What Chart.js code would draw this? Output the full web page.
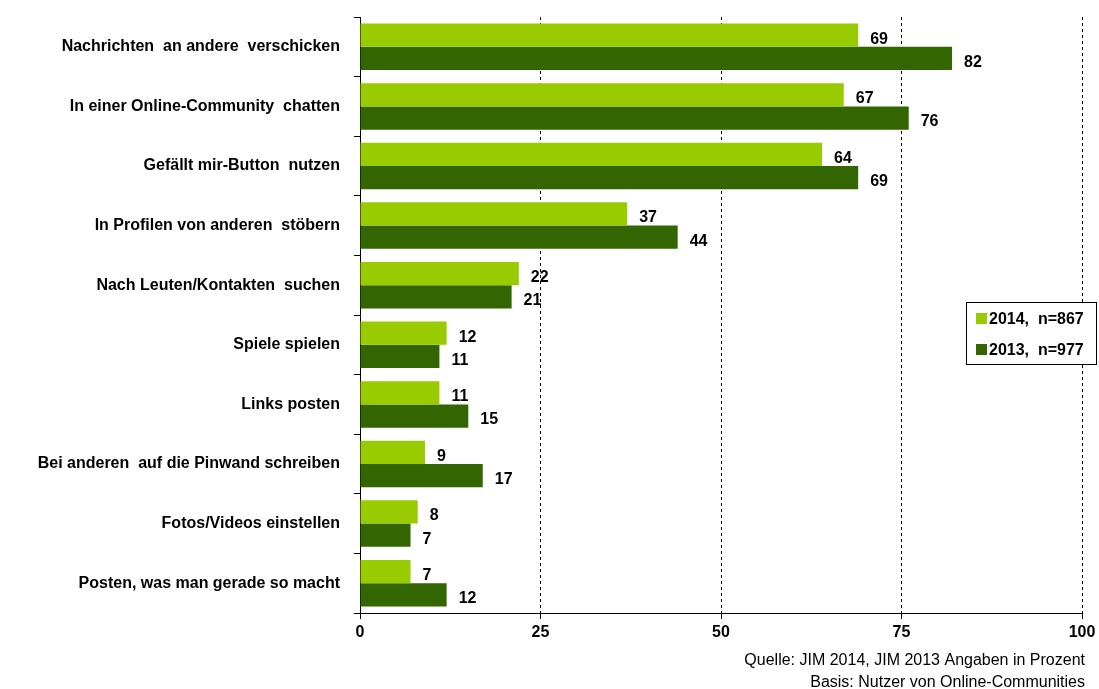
<!DOCTYPE html>
<html><head><meta charset="utf-8">
<script src="https://cdn.jsdelivr.net/npm/chart.js@4"></script>
<style>html,body{margin:0;padding:0;background:#fff}#wrap{width:1099px;height:689px}</style>
</head><body><div id="wrap"><canvas id="c" width="1099" height="689"></canvas></div>
<script>
const categories = [
  "Nachrichten  an andere  verschicken",
  "In einer Online-Community  chatten",
  "Gefällt mir-Button  nutzen",
  "In Profilen von anderen  stöbern",
  "Nach Leuten/Kontakten  suchen",
  "Spiele spielen",
  "Links posten",
  "Bei anderen  auf die Pinwand schreiben",
  "Fotos/Videos einstellen",
  "Posten, was man gerade so macht"
];
const values2014 = [69, 67, 64, 37, 22, 12, 11, 9, 8, 7];
const values2013 = [82, 76, 69, 44, 21, 11, 15, 17, 7, 12];
const seriesLabels = ["2014,  n=867", "2013,  n=977"];
const xTicks = [0, 25, 50, 75, 100];
const footnotes = ["Quelle: JIM 2014, JIM 2013 Angaben in Prozent", "Basis: Nutzer von Online-Communities"];

const FONT = "'Liberation Sans', Arial, sans-serif";
const NARROW = "'Liberation Sans Narrow', 'Arial Narrow', 'Liberation Sans', sans-serif";
const colors = ["#99CC00", "#336600"];

const labelsPlugin = {
  id: 'vals',
  afterDatasetsDraw(chart) {
    const ctx = chart.ctx;
    ctx.save();
    ctx.font = "bold 16px " + FONT;
    ctx.fillStyle = "#000";
    ctx.textBaseline = "middle";
    ctx.textAlign = "left";
    chart.data.datasets.forEach((ds, di) => {
      chart.getDatasetMeta(di).data.forEach((bar, i) => {
        ctx.fillText(String(ds.data[i]), bar.x + 12, bar.y + 4);
      });
    });
    ctx.restore();
  },
  afterDraw(chart) {
    const ctx = chart.ctx;
    ctx.save();
    const lx = 966, ly = 302, lw = 130, lh = 62;
    ctx.fillStyle = "#fff";
    ctx.fillRect(lx, ly, lw, lh);
    ctx.strokeStyle = "#000";
    ctx.lineWidth = 1;
    ctx.strokeRect(lx + 0.5, ly + 0.5, lw, lh);
    ctx.font = "bold 16px " + FONT;
    ctx.textBaseline = "middle";
    ctx.textAlign = "left";
    seriesLabels.forEach((t, i) => {
      const cy = ly + 17 + i * 31;
      ctx.fillStyle = colors[i];
      ctx.fillRect(lx + 10, cy - 6, 11, 11);
      ctx.fillStyle = "#000";
      ctx.fillText(t, lx + 23, cy + 1);
    });
    ctx.font = "16px " + NARROW;
    ctx.textAlign = "right";
    ctx.fillStyle = "#000";
    ctx.fillText(footnotes[0], 1085, 661);
    ctx.fillText(footnotes[1], 1085, 683);
    ctx.restore();
  }
};

new Chart(document.getElementById('c'), {
  type: 'bar',
  data: {
    labels: categories,
    datasets: [
      { label: seriesLabels[0], data: values2014, backgroundColor: colors[0], borderWidth: 0 },
      { label: seriesLabels[1], data: values2013, backgroundColor: colors[1], borderWidth: 0 }
    ]
  },
  options: {
    indexAxis: 'y',
    responsive: false,
    animation: false,
    devicePixelRatio: 1,
    layout: { padding: { top: 17, right: 17, bottom: 46, left: 0 } },
    datasets: { bar: { categoryPercentage: 0.78, barPercentage: 1.0 } },
    plugins: { legend: { display: false }, tooltip: { enabled: false } },
    scales: {
      x: {
        min: 0, max: 100,
        afterBuildTicks(scale) { scale.ticks = xTicks.map(v => ({ value: v })); },
        afterFit(scale) { scale.height = 30; scale.paddingRight = 0; },
        grid: {
          display: true,
          drawOnChartArea: true,
          color: ctx => (ctx.tick && ctx.tick.value === 0) ? 'rgba(0,0,0,0)' : '#000',
          tickColor: '#000',
          tickLength: 6,
          lineWidth: 1
        },
        border: { display: true, color: '#000', width: 1, dash: [3, 3] },
        ticks: { color: '#000', font: { family: FONT, size: 16, weight: 'bold' }, padding: 4, maxRotation: 0 }
      },
      y: {
        afterFit(scale) { scale.width = 360; scale.paddingTop = 0; scale.paddingBottom = 0; },
        grid: {
          display: true,
          drawOnChartArea: false,
          offset: true,
          color: '#000',
          tickColor: '#000',
          tickLength: 6
        },
        border: { display: true, color: '#000', width: 1 },
        ticks: { color: '#000', font: { family: FONT, size: 16, weight: 'bold' }, padding: 14 }
      }
    }
  },
  plugins: [labelsPlugin]
});
</script></body></html>
